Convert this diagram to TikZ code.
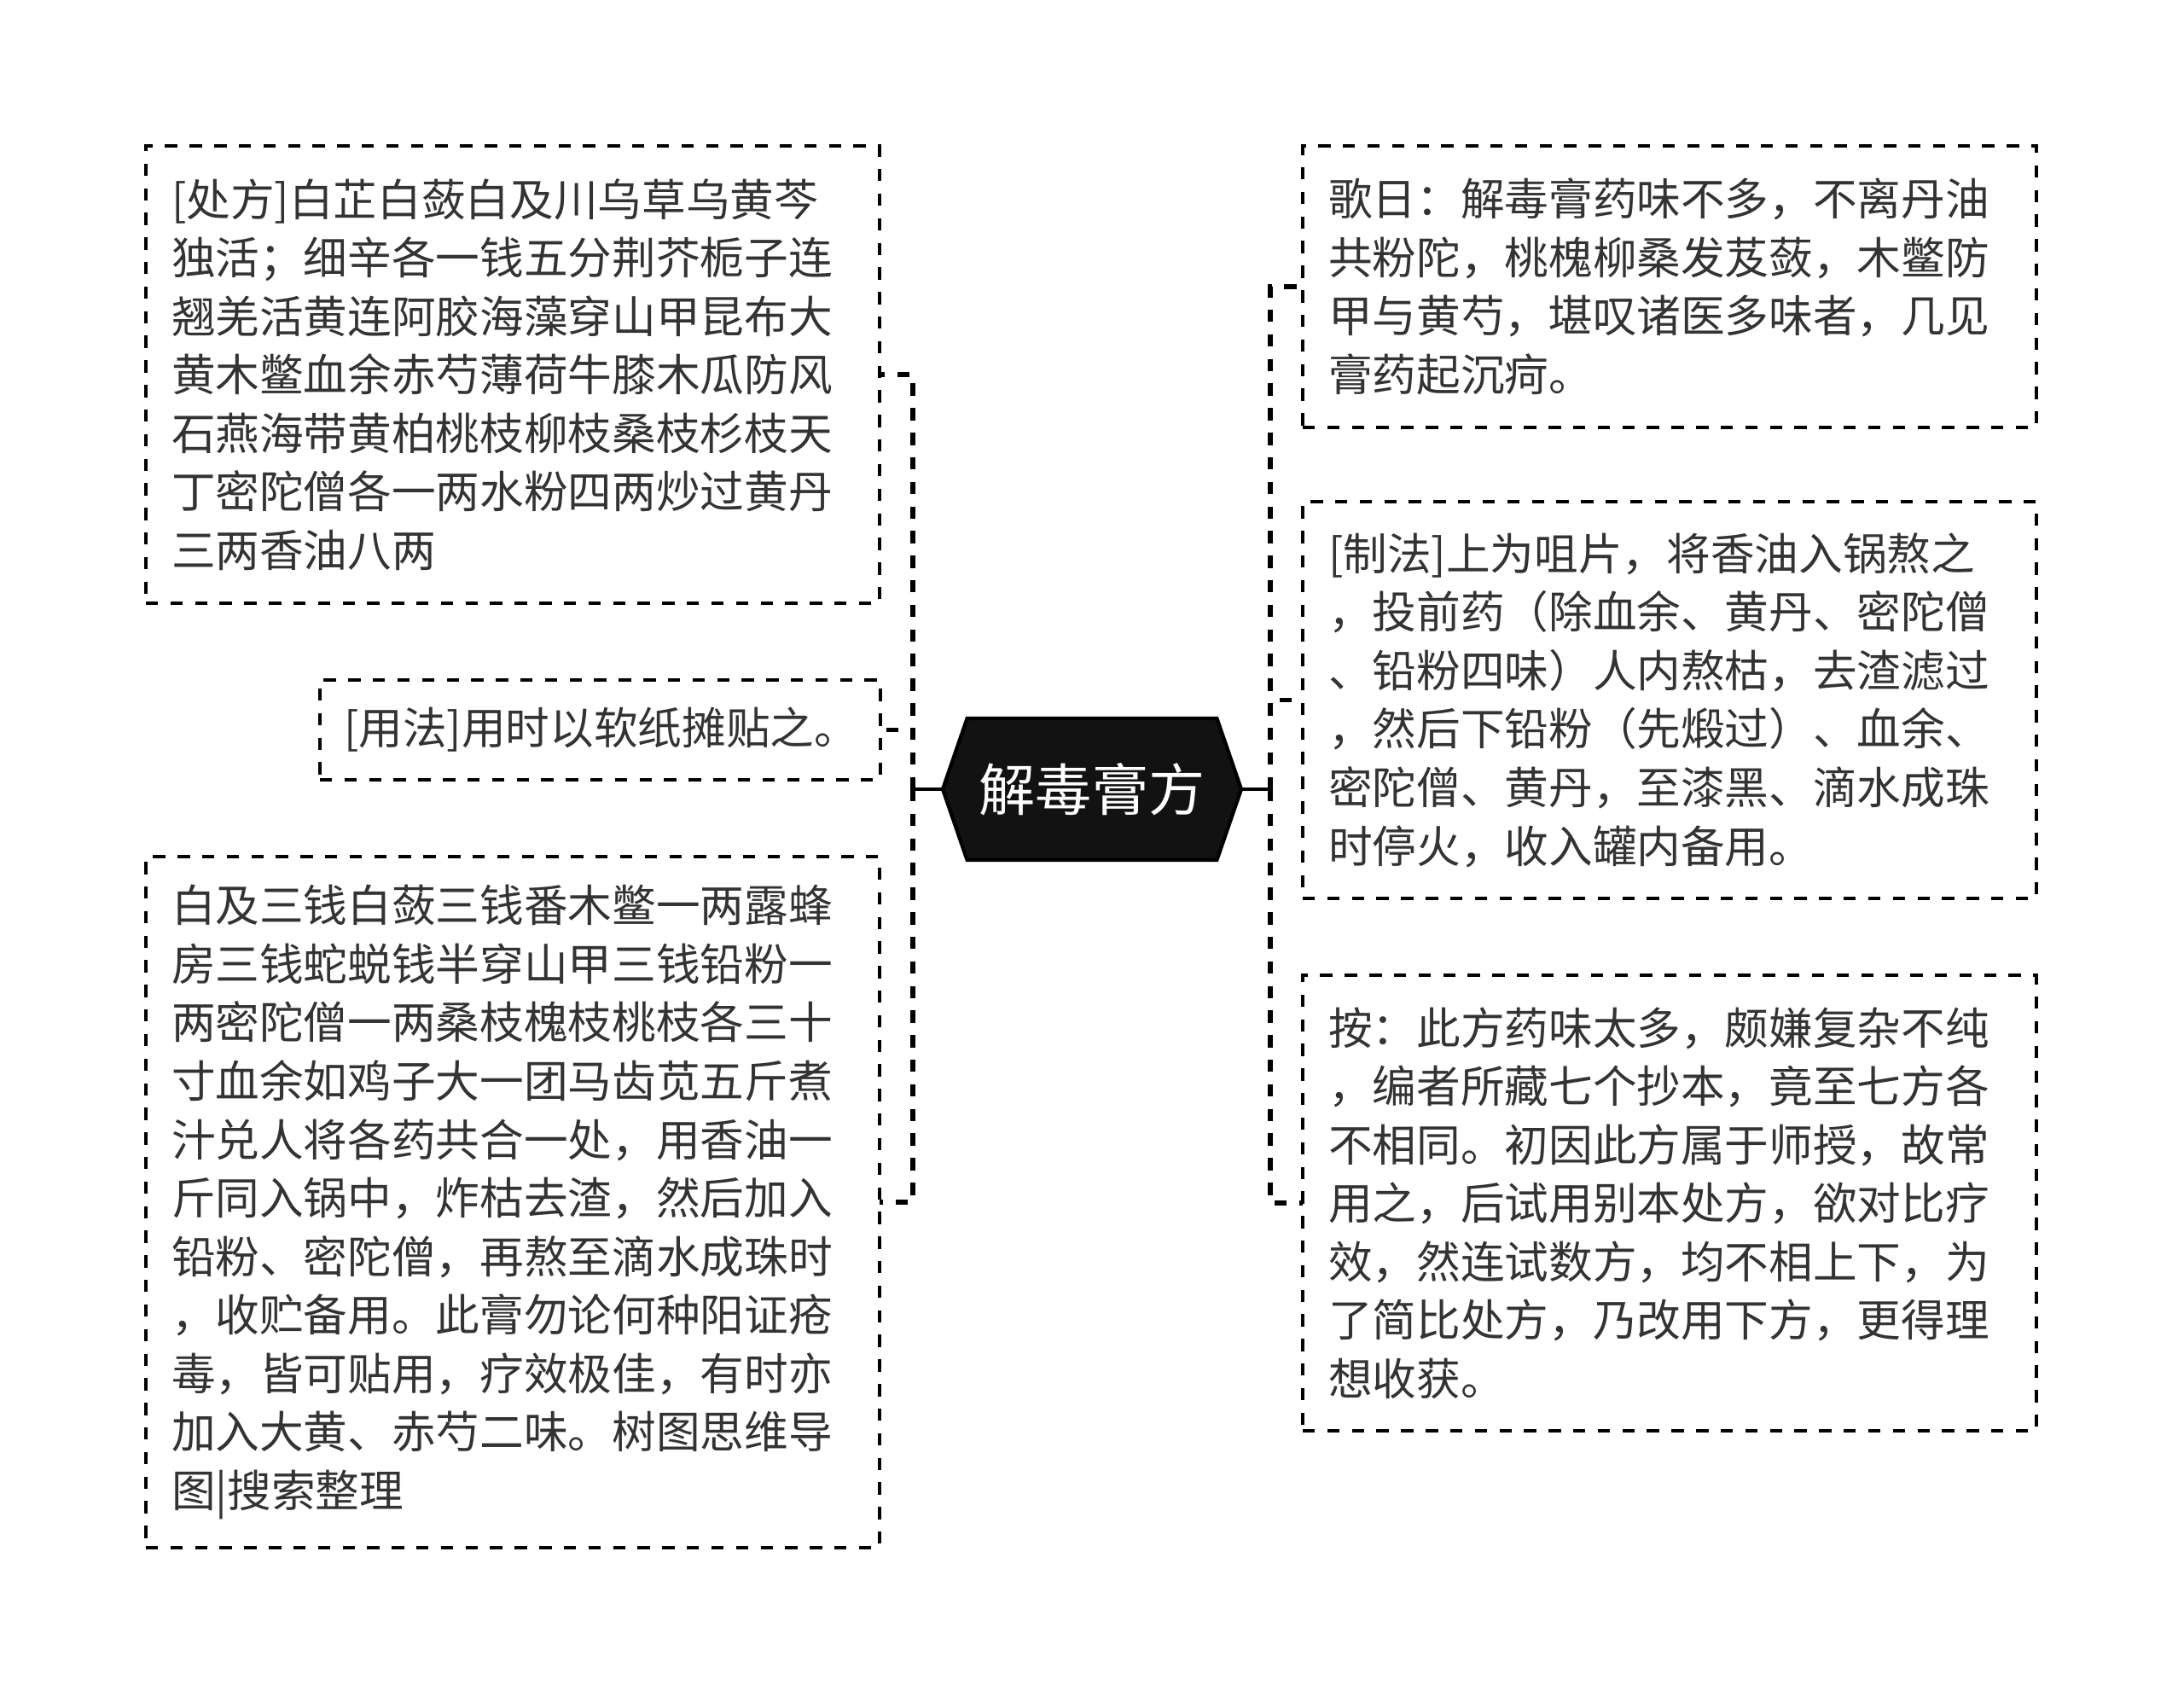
\documentclass[tikz,border=0pt]{standalone}
\usepackage{fontspec}
\setmainfont{Noto Sans CJK SC}
\usetikzlibrary{shapes.symbols}

\definecolor{txtgray}{HTML}{333333}

\begin{document}
\begin{tikzpicture}[
    leaf/.style={draw=black, line width=0.95pt, dash pattern=on 4.1pt off 4.1pt,
        anchor=north west, outer sep=0pt, inner xsep=0.3cm, text width=8.0cm,
        minimum width=8.6cm, align=left, text=txtgray,
        font=\fontsize{14.7}{19.5}\selectfont},
    rootnode/.style={signal, signal to=west and east, signal pointer angle=142,
        fill=black!93, draw=black, line width=1.2pt, text=white, outer sep=0pt,
        minimum width=3.5cm, minimum height=1.66cm, inner sep=0pt,
        font=\fontsize{18.8}{22}\selectfont},
    trunk/.style={line width=1.2pt},
    branch/.style={line width=1.7pt, dash pattern=on 4.1pt off 4.1pt}
]
    \useasboundingbox (0,0) rectangle (25.6,-19.89);

    \node[rootnode] (root) at (12.8,-9.25) {解毒膏方};

    \node[leaf, minimum height=5.36cm] (chufang) at (1.71,-1.71) {[处方]白芷白蔹白及川乌草乌黄芩\\独活；细辛各一钱五分荆芥栀子连\\翘羌活黄连阿胶海藻穿山甲昆布大\\黄木鳖血余赤芍薄荷牛膝木瓜防风\\石燕海带黄柏桃枝柳枝桑枝杉枝天\\丁密陀僧各一两水粉四两炒过黄丹\\三两香油八两};
    \node[leaf, minimum height=1.17cm, minimum width=6.57cm, text width=6.01cm,
        inner xsep=0.28cm] (yongfa) at (3.75,-7.97) {[用法]用时以软纸摊贴之。};
    \node[leaf, minimum height=8.10cm] (fangjie) at (1.71,-10.04) {白及三钱白蔹三钱番木鳖一两露蜂\\房三钱蛇蜕钱半穿山甲三钱铅粉一\\两密陀僧一两桑枝槐枝桃枝各三十\\寸血余如鸡子大一团马齿苋五斤煮\\汁兑人将各药共合一处，用香油一\\斤同入锅中，炸枯去渣，然后加入\\铅粉、密陀僧，再熬至滴水成珠时\\，收贮备用。此膏勿论何种阳证疮\\毒，皆可贴用，疗效极佳，有时亦\\加入大黄、赤芍二味。树图思维导\\图|搜索整理};

    \node[leaf, minimum height=3.30cm] (gejue) at (15.27,-1.71) {歌日：解毒膏药味不多，不离丹油\\共粉陀，桃槐柳桑发芨蔹，木鳖防\\甲与黄芍，堪叹诸医多味者，几见\\膏药起沉疴。};
    \node[leaf, minimum height=4.65cm] (zhifa) at (15.27,-5.88) {[制法]上为咀片，将香油入锅熬之\\，投前药（除血余、黄丹、密陀僧\\、铅粉四味）人内熬枯，去渣滤过\\，然后下铅粉（先煅过）、血余、\\密陀僧、黄丹，至漆黑、滴水成珠\\时停火，收入罐内备用。};
    \node[leaf, minimum height=5.34cm] (anyu) at (15.27,-11.43) {按：此方药味太多，颇嫌复杂不纯\\，编者所藏七个抄本，竟至七方各\\不相同。初因此方属于师授，故常\\用之，后试用别本处方，欲对比疗\\效，然连试数方，均不相上下，为\\了简比处方，乃改用下方，更得理\\想收获。};

    \coordinate (lspine) at (10.70,-9.25);
    \coordinate (rspine) at (14.89,-9.25);

    \draw[trunk] (root.west) -- (lspine);
    \draw[trunk] (root.east) -- (rspine);

    \foreach \n in {chufang,yongfa,fangjie}{
        \draw[branch] (lspine) |- (\n.east);
    }
    \foreach \n in {gejue,zhifa,anyu}{
        \draw[branch] (rspine) |- (\n.west);
    }
\end{tikzpicture}
\end{document}
